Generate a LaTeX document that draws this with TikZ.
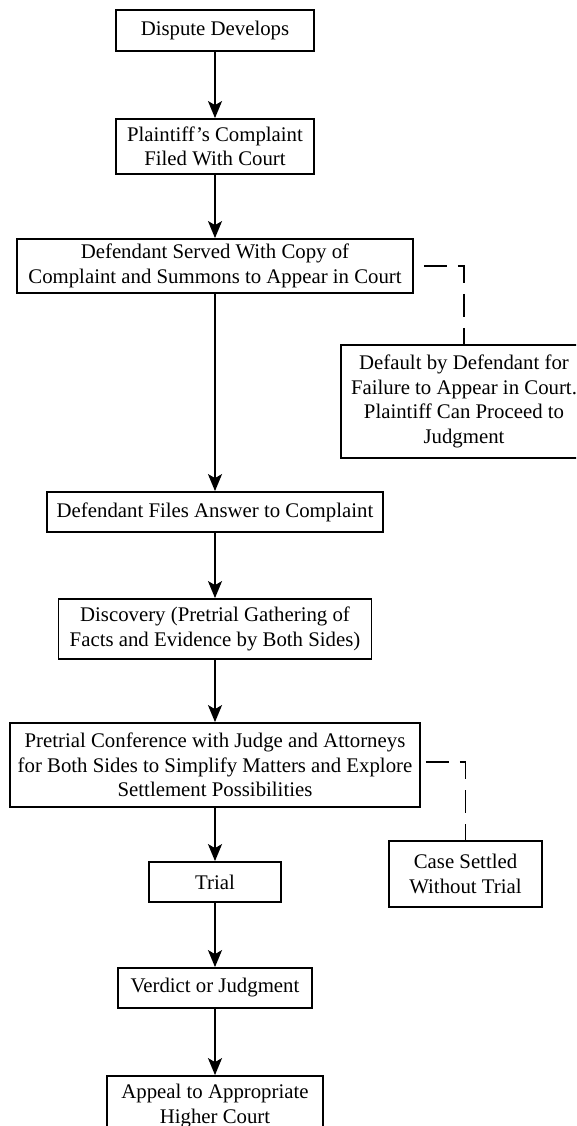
\documentclass[tikz,border=0pt]{standalone}
\usepackage{fontspec}
\setmainfont{Liberation Serif}
\usetikzlibrary{arrows.meta}
\begin{document}
\begin{tikzpicture}[x=1pt,y=-1pt,
  box/.style={draw, line width=1.8pt, inner sep=0pt, align=center,
    font=\fontsize{20.8}{24.5}\selectfont},
  flow/.style={line width=1.8pt, -{Stealth[length=17pt,width=14pt,inset=4pt]}},
  alt/.style={line width=1.8pt, dash pattern=on 23pt off 11pt}]
\clip (0,0) rectangle (576,1126);
\useasboundingbox (0,0) rectangle (576,1126);
\node[box, minimum width=198, minimum height=41] (dispute) at (215,30.5) {Dispute Develops};
\node[box, minimum width=198, minimum height=55] (plaintiff) at (215,146.5) {Plaintiff’s Complaint\\Filed With Court};
\node[box, minimum width=396, minimum height=54] (served) at (215,266) {Defendant Served With Copy of\\Complaint and Summons to Appear in Court};
\node[box, minimum width=246, minimum height=113] (default) at (464,401.5) {Default by Defendant for\\Failure to Appear in Court.\\Plaintiff Can Proceed to\\Judgment};
\node[box, minimum width=336, minimum height=40] (answer) at (215,512) {Defendant Files Answer to Complaint};
\node[box, minimum width=313, minimum height=60] (discovery) at (215,629) {Discovery (Pretrial Gathering of\\Facts and Evidence by Both Sides)};
\node[box, minimum width=410, minimum height=84] (pretrial) at (215,765) {Pretrial Conference with Judge and Attorneys\\for Both Sides to Simplify Matters and Explore\\Settlement Possibilities};
\node[box, minimum width=153, minimum height=66] (settled) at (465.5,874) {Case Settled\\Without Trial};
\node[box, minimum width=132, minimum height=40] (trial) at (215,882) {Trial};
\node[box, minimum width=194, minimum height=40] (verdict) at (215,988) {Verdict or Judgment};
\node[box, minimum width=216, minimum height=60] (appeal) at (215,1106) {Appeal to Appropriate\\Higher Court};

\draw[flow] (dispute) -- (plaintiff);
\draw[flow] (plaintiff) -- (served);
\draw[flow] (served) -- (answer);
\draw[flow] (answer) -- (discovery);
\draw[flow] (discovery) -- (pretrial);
\draw[flow] (pretrial) -- (trial);
\draw[flow] (trial) -- (verdict);
\draw[flow] (verdict) -- (appeal);

\draw[alt, dash phase=24pt] (served.east) -| (default.north);
\draw[alt, dash phase=29pt] (pretrial.east |- 0,762) -| (settled.north);
\end{tikzpicture}
\end{document}
